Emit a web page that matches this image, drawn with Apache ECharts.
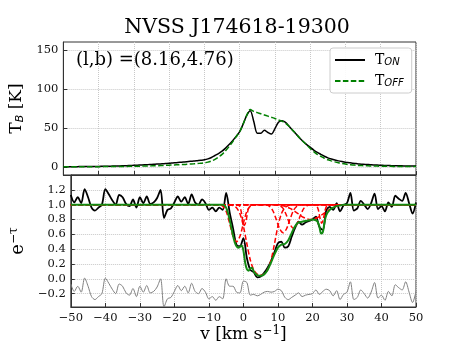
<!DOCTYPE html>
<html>
<head>
<meta charset="utf-8">
<script src="https://cdn.jsdelivr.net/npm/echarts@6/dist/echarts.min.js"></script>
<style>
html, body { margin: 0; padding: 0; background: #fff; }
#main { width: 463px; height: 347px; }
</style>
</head>
<body>
<div id="main"></div>
<script>
// velocity channels (km/s)
var vel = [-50,-49,-48,-47,-46,-45,-44,-43,-42,-41,
  -40,-39,-38,-37,-36,-35,-34,-33,-32,-31,
  -30,-29,-28,-27,-26,-25,-24,-23,-22,-21,
  -20,-19,-18,-17,-16,-15,-14,-13,-12,-11,
  -10,-9,-8,-7,-6,-5,-4,-3,-2,-1,
  0,1,2,3,4,5,6,7,8,9,
  10,11,12,13,14,15,16,17,18,19,
  20,21,22,23,24,25,26,27,28,29,
  30,31,32,33,34,35,36,37,38,39,
  40,41,42,43,44,45,46,47,48,49,
  50];

// emission, top panel (K)
var tOn = [0.0,0.1,0.1,0.2,0.2,0.3,0.3,0.4,0.4,0.5,
  0.5,0.6,0.7,0.8,0.9,1.0,1.1,1.3,1.5,1.7,
  1.9,2.1,2.3,2.5,2.8,3.0,3.3,3.6,3.9,4.2,
  4.5,4.9,5.3,5.7,6.1,6.5,7.0,7.4,7.9,8.4,
  9.0,10.2,12.0,14.5,17.0,20.0,24.0,28.5,33.5,39.0,
  45,55,66,72,58,43,43,47,44,42,
  49,57,59,57,52,47,42,37,32.5,28.5,
  25,21.5,18.5,16,13.5,11.5,10,8.7,7.6,6.7,
  5.9,5.3,4.7,4.2,3.7,3.3,3.0,2.7,2.4,2.2,
  2.0,1.8,1.6,1.5,1.4,1.3,1.2,1.1,1.0,0.9,
  0.9];
var tOff = [0.0,0.0,0.0,0.0,0.1,0.1,0.1,0.1,0.1,0.2,
  0.2,0.2,0.3,0.3,0.3,0.4,0.4,0.5,0.5,0.6,
  0.7,0.8,0.9,1.0,1.1,1.2,1.4,1.5,1.7,1.9,
  2.1,2.3,2.5,2.7,2.9,3.2,3.5,3.8,4.2,4.6,
  5.0,6.0,7.5,9.5,12.5,16.0,20.5,26.0,32.0,38.5,
  45,55,66,73.5,71,69.5,68,66.5,65,63.5,
  62,60,58.5,56,52,47,42,37,32.5,28,
  23.5,19.5,16.0,13.5,11.0,9.0,7.6,6.3,5.2,4.3,
  3.5,2.9,2.4,2.0,1.7,1.5,1.3,1.1,1.0,0.9,
  0.8,0.7,0.6,0.6,0.5,0.5,0.4,0.4,0.3,0.3,
  0.3];

// absorption, bottom panel (e^-tau)
var absorb = [1.13,1.03,1.10,1.02,1.21,1.10,0.96,0.92,0.96,1.00,
  1.21,1.14,1.06,1.00,1.13,1.10,1.01,0.98,1.07,0.96,
  1.10,1.02,1.11,1.01,1.03,1.09,1.20,0.82,0.93,0.95,
  1.03,1.11,1.04,1.10,1.01,1.14,1.03,1.00,1.07,1.02,
  0.93,0.96,0.91,0.96,0.93,1.16,0.90,0.68,0.46,0.44,
  0.55,0.28,0.12,0.09,0.02,0.03,0.08,0.15,0.24,0.36,
  0.48,0.50,0.42,0.44,0.57,0.69,0.77,0.73,0.76,0.78,
  0.80,0.84,0.70,0.66,0.92,0.97,0.93,1.02,0.91,0.99,
  1.02,1.16,0.92,0.95,1.05,1.00,0.94,1.02,1.15,0.94,
  0.98,0.91,1.03,0.97,1.12,1.08,1.05,1.16,1.02,0.88,
  1.03];
var residual = [-0.07,-0.17,-0.10,-0.18,0.01,-0.10,-0.24,-0.28,-0.24,-0.20,
  0.01,-0.06,-0.14,-0.20,-0.07,-0.10,-0.19,-0.22,-0.13,-0.24,
  -0.10,-0.18,-0.09,-0.19,-0.17,-0.11,0.00,-0.38,-0.27,-0.25,
  -0.17,-0.09,-0.16,-0.10,-0.19,-0.06,-0.17,-0.20,-0.13,-0.18,
  -0.27,-0.24,-0.29,-0.24,-0.27,0.00,-0.10,-0.10,-0.18,-0.19,
  -0.03,-0.05,-0.22,-0.21,-0.23,-0.21,-0.18,-0.17,-0.18,-0.17,
  -0.14,-0.16,-0.25,-0.28,-0.25,-0.22,-0.19,-0.24,-0.22,-0.21,
  -0.20,-0.15,-0.21,-0.17,-0.14,-0.16,-0.23,-0.16,-0.28,-0.21,
  -0.18,-0.04,-0.28,-0.25,-0.15,-0.20,-0.26,-0.18,-0.05,-0.26,
  -0.22,-0.29,-0.17,-0.23,-0.08,-0.12,-0.15,-0.04,-0.18,-0.32,
  -0.17];

// total fit [v, e^-tau]
var fitCurve = [[-50,1.0],[-6,1.0],[-5.5,0.99],[-5,0.96],[-4.5,0.89],[-4,0.80],[-3.5,0.69],
  [-3,0.58],[-2.5,0.49],[-2,0.44],[-1.5,0.42],[-1,0.43],[-0.5,0.45],[0,0.38],[0.5,0.22],
  [1,0.13],[1.5,0.11],[2,0.14],[2.5,0.15],[3,0.10],[3.5,0.07],[4,0.05],[5,0.04],[6,0.06],
  [7,0.12],[8,0.22],[9,0.33],[10,0.42],[11,0.46],[12,0.47],[13,0.52],[14,0.62],[15,0.71],
  [16,0.76],[17,0.77],[18,0.78],[19,0.79],[20,0.80],[21,0.79],[21.5,0.77],[22,0.71],
  [22.5,0.61],[23,0.63],[23.5,0.76],[24,0.86],[25,0.93],[26,0.96],[27,0.98],[28,0.99],
  [29,1.0],[30,1.0],[50,1.0]];

// single components [v, e^-tau]
var comp1 = [[-50,1],[-7,1],[-6,0.98],[-5,0.91],[-4,0.75],[-3,0.575],[-2,0.50],[-1,0.575],
  [0,0.75],[1,0.91],[2,0.98],[3,1],[50,1]];
var comp2 = [[-50,1],[-1.7,1],[-1.2,0.986],[-0.7,0.92],[-0.2,0.79],[0.3,0.72],[0.8,0.79],
  [1.3,0.92],[1.8,0.986],[2.3,1],[50,1]];
var comp3 = [[-50,1],[-4,1],[-3,0.988],[-2,0.958],[-1,0.876],[0,0.71],[1,0.473],[2,0.253],
  [3,0.12],[4,0.064],[5,0.05],[6,0.064],[7,0.12],[8,0.253],[9,0.473],[10,0.71],[11,0.876],
  [12,0.958],[13,0.988],[14,1],[50,1]];
var comp4 = [[-50,1],[6.5,1],[7.5,0.979],[8.5,0.921],[9.5,0.803],[10.5,0.675],[11.5,0.62],
  [12.5,0.675],[13.5,0.803],[14.5,0.921],[15.5,0.979],[16.5,1],[50,1]];
var comp5 = [[-50,1],[9.5,1],[10.5,0.989],[11.5,0.949],[12.5,0.853],[13.5,0.734],[14.5,0.68],
  [15.5,0.734],[16.5,0.853],[17.5,0.949],[18.5,0.989],[19.5,1],[50,1]];
var comp6 = [[-50,1],[7.5,1],[9.5,0.996],[11.5,0.984],[13.5,0.95],[15.5,0.89],[17.5,0.827],
  [19.5,0.80],[21.5,0.827],[23.5,0.89],[25.5,0.95],[27.5,0.984],[29.5,0.996],[31.5,1],[50,1]];
var comp7 = [[-50,1],[20.7,1],[21.2,0.987],[21.7,0.931],[22.2,0.816],[22.7,0.75],[23.2,0.816],
  [23.7,0.931],[24.2,0.987],[24.7,1],[50,1]];

// tick labels
var vTicks = [-50,-40,-30,-20,-10,0,10,20,30,40,50];
var tbTicks = [0,50,100,150];
var tauTicks = [-0.2,0.0,0.2,0.4,0.6,0.8,1.0,1.2];

var serif = 'DejaVu Serif';
var chart = echarts.init(document.getElementById('main'));

function pairs(ys) {
  return vel.map(function (v, i) { return [v, ys[i]]; });
}
function minus(s) { return String(s).replace('-', '\u2212'); }

var gridLine = { show: true, lineStyle: { color: '#c8c8c8', type: 'dotted', width: 1 } };
var tickIn = { show: true, inside: true, length: 4, lineStyle: { color: '#333' } };
var axLine = { show: true, onZero: false, lineStyle: { color: '#333', width: 1 } };
var lblStyle = { fontFamily: serif, fontSize: 11.5, color: '#111', margin: 5 };

var compSeries = [comp1, comp2, comp3, comp4, comp5, comp6, comp7].map(function (c) {
  return {
    type: 'line', xAxisIndex: 1, yAxisIndex: 1, data: c, symbol: 'none',
    smooth: 0.3, lineStyle: { color: '#ff0000', width: 1.5, type: [5, 2.5] }, z: 3
  };
});

var option = {
  animation: false,
  textStyle: { fontFamily: serif },
  graphic: [
    { type: 'text', x: 237, y: 28, style: { text: 'NVSS J174618-19300', fontFamily: serif,
      fontSize: 20.5, fill: '#000', textAlign: 'center', textVerticalAlign: 'middle' } },
    { type: 'text', x: 76, y: 60, style: { text: '(l,b) =(8.16,4.76)', fontFamily: serif,
      fontSize: 18, fill: '#000', textAlign: 'left', textVerticalAlign: 'middle' } }
  ],
  legend: {
    data: ['T_ON', 'T_OFF'],
    orient: 'vertical', left: 330, top: 48,
    padding: [5, 8, 5, 4], itemGap: 7, itemWidth: 30, itemHeight: 14,
    itemStyle: { opacity: 0 },
    backgroundColor: 'rgba(255,255,255,0.9)', borderColor: '#cccccc', borderWidth: 1, borderRadius: 3,
    formatter: function (name) { return '{t|T}{s|' + name.split('_')[1] + '}'; },
    textStyle: {
      rich: {
        t: { fontFamily: serif, fontSize: 14, lineHeight: 14, color: '#000', padding: [0, 0, 0, 5] },
        s: { fontFamily: 'DejaVu Sans', fontStyle: 'italic', fontSize: 10, lineHeight: 8,
          verticalAlign: 'bottom', color: '#000' }
      }
    }
  },
  grid: [
    { left: 58, right: 47, top: 42, height: 133, show: true, borderColor: '#333', borderWidth: 1 },
    { left: 58, right: 47, top: 175, height: 132, show: true, borderColor: '#333', borderWidth: 1 }
  ],
  xAxis: [
    { type: 'value', gridIndex: 0, min: -50, max: 50, interval: 10,
      axisLine: axLine, axisTick: tickIn, axisLabel: { show: false }, splitLine: gridLine },
    { type: 'value', gridIndex: 1, min: -50, max: 50, interval: 10,
      axisLine: axLine, axisTick: tickIn, splitLine: gridLine,
      axisLabel: Object.assign({ customValues: vTicks, formatter: function (v) { return minus(v); } }, lblStyle),
      name: '{a|v [km s}{s|\u22121}{a|]}', nameLocation: 'middle', nameGap: 13,
      nameTextStyle: { rich: {
        a: { fontFamily: serif, fontSize: 17, lineHeight: 20, color: '#000' },
        s: { fontFamily: serif, fontSize: 12, lineHeight: 10, verticalAlign: 'top', color: '#000' }
      } } }
  ],
  yAxis: [
    { type: 'value', gridIndex: 0, min: -10.5, max: 160, splitNumber: 4,
      axisLine: axLine, axisTick: Object.assign({ customValues: tbTicks }, tickIn), splitLine: gridLine,
      axisLabel: Object.assign({ customValues: tbTicks,
        formatter: function (v) { return minus(v); } }, lblStyle),
      name: '{a|T}{b|B}{a| [K]}', nameLocation: 'middle', nameGap: 29,
      nameTextStyle: { rich: {
        a: { fontFamily: serif, fontSize: 17, lineHeight: 18, color: '#000' },
        b: { fontFamily: 'DejaVu Sans', fontStyle: 'italic', fontSize: 11, lineHeight: 8,
          verticalAlign: 'bottom', color: '#000' }
      } } },
    { type: 'value', gridIndex: 1, min: -0.38, max: 1.4, splitNumber: 9,
      axisLine: axLine, axisTick: Object.assign({ customValues: tauTicks }, tickIn), splitLine: gridLine,
      axisLabel: Object.assign({ customValues: tauTicks,
        formatter: function (v) { return minus(v.toFixed(1)); } }, lblStyle),
      name: '{a|e}{s|\u2212\u03c4}', nameLocation: 'middle', nameGap: 29,
      nameTextStyle: { rich: {
        a: { fontFamily: serif, fontSize: 18, lineHeight: 20, color: '#000' },
        s: { fontFamily: serif, fontSize: 12, lineHeight: 10, verticalAlign: 'top', color: '#000' }
      } } }
  ],
  series: [
    { name: 'T_ON', type: 'line', xAxisIndex: 0, yAxisIndex: 0, data: pairs(tOn), symbol: 'none',
      smooth: 0.3, lineStyle: { color: '#000', width: 1.5 }, itemStyle: { color: '#000' } },
    { name: 'T_OFF', type: 'line', xAxisIndex: 0, yAxisIndex: 0, data: pairs(tOff), symbol: 'none',
      smooth: 0.3, lineStyle: { color: '#008000', width: 1.5, type: [5.5, 2.4] }, itemStyle: { color: '#008000' } },
    { type: 'line', xAxisIndex: 1, yAxisIndex: 1, data: pairs(absorb), symbol: 'none',
      smooth: 0.3, lineStyle: { color: '#000', width: 1.8 }, z: 2 }
  ].concat(compSeries).concat([
    { type: 'line', xAxisIndex: 1, yAxisIndex: 1, data: fitCurve, symbol: 'none',
      smooth: 0.3, lineStyle: { color: '#138a13', width: 2 }, z: 4 },
    { type: 'line', xAxisIndex: 1, yAxisIndex: 1, data: pairs(residual), symbol: 'none',
      smooth: 0.3, lineStyle: { color: '#808080', width: 1 }, z: 5 }
  ])
};

chart.setOption(option);
</script>
</body>
</html>
